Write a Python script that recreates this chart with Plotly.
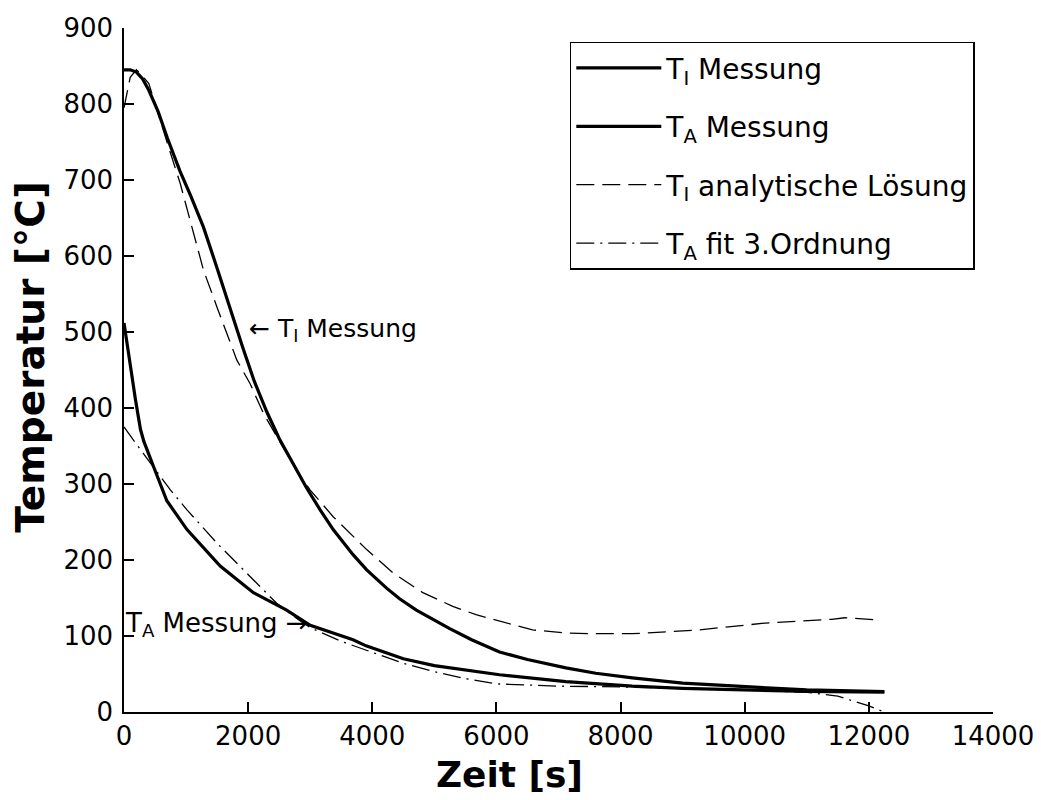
import plotly.graph_objects as go

# Data
t_I_meas = [0, 100, 200, 300, 400, 550, 700, 900, 1070, 1280, 1500, 1700, 1920, 2100, 2300, 2500, 2730, 2940,
            3160, 3370, 3690, 3910, 4230, 4440, 4710, 5240, 5600, 5890, 6050, 6500, 7120, 7600, 8190, 9000,
            10000, 11000, 12250]
T_I_meas = [845, 845, 842, 833, 818, 790, 755, 712, 680, 638, 584, 533, 478, 435, 395, 360, 325, 295,
            266, 240, 207, 187, 163, 149, 134, 110, 95, 85, 79, 69, 58, 51, 45, 38,
            33, 29, 27]

t_A_meas = [0, 40, 80, 185, 265, 320, 480, 530, 690, 1015, 1550, 2085, 2620, 3000, 3690, 3900, 4500, 5000,
            6050, 7120, 8190, 9000, 10000, 11000, 12250]
T_A_meas = [512, 490, 463, 411, 372, 356, 322, 311, 278, 240, 192, 157, 134, 114, 95, 87, 70, 61,
            49, 40, 34, 31, 29, 27, 26]

t_I_ana = [0, 100, 200, 265, 400, 530, 700, 907, 1068, 1282, 1497, 1657, 1818, 2032, 2246, 2500, 2780,
           3000, 3370, 3906, 4334, 4815, 5297, 5672, 6154, 6582, 7118, 7500, 8188, 8700, 9259, 10330,
           11000, 11400, 11614, 12150]
T_I_ana = [795, 835, 845, 840, 827, 792, 748, 695, 647, 581, 533, 498, 463, 432, 393, 357, 318,
           292, 257, 214, 183, 157, 139, 128, 117, 108, 104, 103, 103, 105, 108, 117,
           120, 122, 124, 121]

t_A_fit = [0, 150, 750, 1015, 1500, 2030, 2460, 2800, 3000, 3500, 4000, 4500, 5000, 5500, 6000, 7000,
           8000, 9000, 10000, 11000, 11500, 11800, 12000, 12250]
T_A_fit = [375, 358, 292, 266, 222, 178, 143, 122, 111, 93, 78, 64, 53, 44, 37, 34,
           33, 31, 29, 26, 21, 13, 8, 0]

x_ticks = [0, 2000, 4000, 6000, 8000, 10000, 12000, 14000]
y_ticks = [0, 100, 200, 300, 400, 500, 600, 700, 800, 900]

FONT = "DejaVu Sans"

fig = go.Figure()
fig.add_trace(go.Scatter(x=t_I_meas, y=T_I_meas, mode="lines", name="T<sub>I</sub> Messung",
                         line=dict(color="black", width=3.2), legendgroup="a"))
fig.add_trace(go.Scatter(x=t_A_meas, y=T_A_meas, mode="lines", name="T<sub>A</sub> Messung",
                         line=dict(color="black", width=3.2), legendgroup="b"))
fig.add_trace(go.Scatter(x=t_I_ana, y=T_I_ana, mode="lines", name="T<sub>I</sub> analytische Lösung",
                         line=dict(color="black", width=1.3, dash="18px,8px"), legendgroup="c"))
fig.add_trace(go.Scatter(x=t_A_fit, y=T_A_fit, mode="lines", name="T<sub>A</sub> fit 3.Ordnung",
                         line=dict(color="black", width=1.3, dash="18px,6px,2px,6px"), legendgroup="d"))

fig.add_annotation(x=1980, y=503, xref="x", yref="y", text="← T<sub>I</sub> Messung",
                   showarrow=False, xanchor="left", yanchor="middle",
                   font=dict(family=FONT, size=25, color="black"))
fig.add_annotation(x=3000, y=115, xref="x", yref="y", text="T<sub>A</sub> Messung →",
                   showarrow=False, xanchor="right", yanchor="middle",
                   font=dict(family=FONT, size=26, color="black"))

# axis titles
fig.add_annotation(x=-0.107, y=0.518, xref="paper", yref="paper", text="<b>Temperatur [°C]</b>",
                   textangle=-90, showarrow=False, xanchor="center", yanchor="middle",
                   font=dict(family=FONT, size=39, color="black"))
fig.add_annotation(x=0.444, y=-0.0913, xref="paper", yref="paper", text="<b>Zeit [s]</b>",
                   showarrow=False, xanchor="center", yanchor="middle",
                   font=dict(family=FONT, size=36, color="black"))

fig.update_layout(
    width=1041, height=800,
    margin=dict(l=116, r=56, t=20, b=95.5),
    paper_bgcolor="white", plot_bgcolor="white",
    font=dict(family=FONT, size=26, color="black"),
    showlegend=True,
    legend=dict(x=0.513, y=0.98, xanchor="left", yanchor="top",
                bordercolor="black", borderwidth=1.5, bgcolor="white",
                font=dict(family=FONT, size=28, color="black"),
                tracegroupgap=19, itemwidth=85),
    xaxis=dict(range=[0, 14000], tickvals=x_ticks, ticktext=[str(v) for v in x_ticks],
               ticks="inside", ticklen=10, tickwidth=1.5, tickcolor="black",
               showline=True, linecolor="black", linewidth=1.5, showgrid=False, zeroline=False,
               tickfont=dict(family=FONT, size=26), automargin=False),
    yaxis=dict(range=[0, 900], tickvals=y_ticks, ticktext=[str(v) for v in y_ticks],
               ticks="inside", ticklen=10, tickwidth=1.5, tickcolor="black",
               showline=True, linecolor="black", linewidth=1.5, showgrid=False, zeroline=False,
               tickfont=dict(family=FONT, size=26), ticklabelstandoff=4, automargin=False),
)

fig.write_html("out.html")
